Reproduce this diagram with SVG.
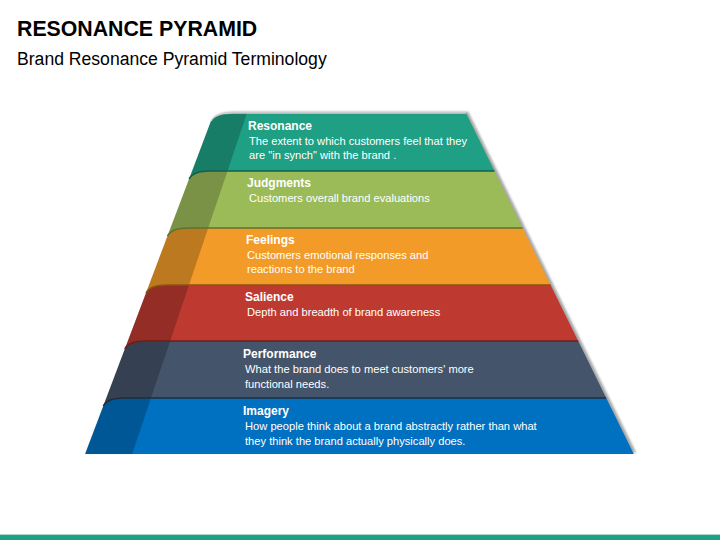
<svg xmlns="http://www.w3.org/2000/svg" width="720" height="540" viewBox="0 0 720 540">
  <defs>
    <filter id="soft" x="-10%" y="-10%" width="120%" height="120%">
      <feGaussianBlur stdDeviation="1.3"/>
    </filter>
  </defs>
  <style>
    .h1 { font-family: "Liberation Sans", Arial, sans-serif; font-weight: bold; font-size: 21.3px; fill: #000; }
    .h2 { font-family: "Liberation Sans", Arial, sans-serif; font-size: 17.6px; fill: #000; }
    .t { font-family: "Liberation Sans", Arial, sans-serif; font-weight: bold; font-size: 12px; fill: #fff; }
    .d { font-family: "Liberation Sans", Arial, sans-serif; font-size: 11.15px; fill: #fff; }
    .strip { fill: #000; fill-opacity: 0.22; }
    .edge { fill: none; stroke-width: 1.6; }
  </style>
  <rect width="720" height="540" fill="#fff"/>

  <text class="h1" x="17" y="35.5">RESONANCE PYRAMID</text>
  <text class="h2" x="17" y="65">Brand Resonance Pyramid Terminology</text>

  <!-- pyramid shadow -->
  <path d="M211,121 Q215,113 232,113 L466,113 L634,454 L85,454 Z" fill="#8a8a8a" fill-opacity="0.75" filter="url(#soft)" transform="translate(2.2,-1.2)"/>

  <g id="resonance">
    <path d="M211,121 Q215,113 232,113 L466,113 L494.5,171 L212.1,171 L189.1,179 Z" fill="#1fa084"/>
    <path class="strip" d="M211,121 Q215,113 232,113 L247,113 L227.5,171 L212.1,171 L189.1,179 Z"/>
    <text class="t" x="248" y="129.5">Resonance</text>
    <text class="d" x="249" y="145">The extent to which customers feel that they</text>
    <text class="d" x="249" y="159">are "in synch" with the brand .</text>
  </g>

  <g id="judgments">
    <path d="M189.1,179 Q193.1,171 210.1,171 L494.5,171 L522.6,228 L190.5,228 L167.5,236 Z" fill="#9bbb59"/>
    <path class="strip" d="M189.1,179 Q193.1,171 210.1,171 L227.5,171 L208.2,228 L190.5,228 L167.5,236 Z"/>
    <text class="t" x="247" y="186.5">Judgments</text>
    <text class="d" x="249" y="202">Customers overall brand evaluations</text>
  </g>

  <g id="feelings">
    <path d="M167.5,236 Q171.5,228 188.5,228 L522.6,228 L550.6,285 L169,285 L146,293 Z" fill="#f29b28"/>
    <path class="strip" d="M167.5,236 Q171.5,228 188.5,228 L208.2,228 L189,285 L169,285 L146,293 Z"/>
    <text class="t" x="246" y="243.5">Feelings</text>
    <text class="d" x="247" y="259">Customers emotional responses and</text>
    <text class="d" x="247" y="273">reactions to the brand</text>
  </g>

  <g id="salience">
    <path d="M146,293 Q150,285 167,285 L550.6,285 L578.2,341 L147.8,341 L124.8,349 Z" fill="#be3a31"/>
    <path class="strip" d="M146,293 Q150,285 167,285 L189,285 L170.2,341 L147.8,341 L124.8,349 Z"/>
    <text class="t" x="245" y="300.5">Salience</text>
    <text class="d" x="247" y="316">Depth and breadth of brand awareness</text>
  </g>

  <g id="performance">
    <path d="M124.8,349 Q128.8,341 145.8,341 L578.2,341 L606.2,398 L126.3,398 L103.3,406 Z" fill="#44546a"/>
    <path class="strip" d="M124.8,349 Q128.8,341 145.8,341 L170.2,341 L151,398 L126.3,398 L103.3,406 Z"/>
    <text class="t" x="243" y="357.5">Performance</text>
    <text class="d" x="245" y="373">What the brand does to meet customers' more</text>
    <text class="d" x="245" y="388">functional needs.</text>
  </g>

  <g id="imagery">
    <path d="M103.3,406 Q107.3,398 124.3,398 L606.2,398 L633.8,454 L85.1,454 Z" fill="#0070c0"/>
    <path class="strip" d="M103.3,406 Q107.3,398 124.3,398 L151,398 L132.1,454 L85.1,454 Z"/>
    <text class="t" x="243" y="414.5">Imagery</text>
    <text class="d" x="245" y="430">How people think about a brand abstractly rather than what</text>
    <text class="d" x="245" y="445">they think the brand actually physically does.</text>
  </g>

  <g id="connectors">
    <path class="edge" stroke="#cfcfcf" d="M211,121 Q215,113 232,113 L466,113"/>
    <path class="edge" stroke="#145f4c" d="M189.1,179 Q193.1,171 210.1,171 L494.5,171"/>
    <path class="edge" stroke="#5e7330" d="M167.5,236 Q171.5,228 188.5,228 L522.6,228"/>
    <path class="edge" stroke="#8a5412" d="M146,293 Q150,285 167,285 L550.6,285"/>
    <path class="edge" stroke="#6c1f1a" d="M124.8,349 Q128.8,341 145.8,341 L578.2,341"/>
    <path class="edge" stroke="#232c38" d="M103.3,406 Q107.3,398 124.3,398 L606.2,398"/>
  </g>

  <rect x="0" y="534" width="720" height="1" fill="#a9dacd"/>
  <rect x="0" y="535" width="720" height="5" fill="#21a184"/>
</svg>
